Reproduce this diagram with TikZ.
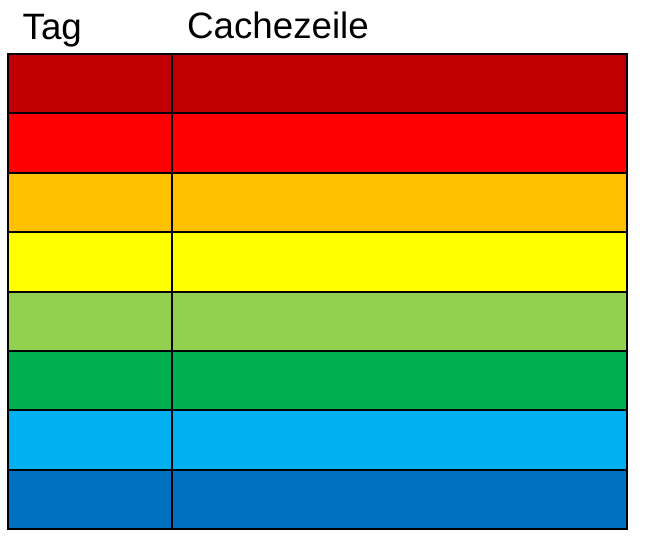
\documentclass[tikz,border=0pt]{standalone}
\usepackage{fontspec}
\setmainfont{Liberation Sans}
\definecolor{c1}{HTML}{C00000}
\definecolor{c2}{HTML}{FF0000}
\definecolor{c3}{HTML}{FFC000}
\definecolor{c4}{HTML}{FFFF00}
\definecolor{c5}{HTML}{92D050}
\definecolor{c6}{HTML}{00B050}
\definecolor{c7}{HTML}{00B0F0}
\definecolor{c8}{HTML}{0070C0}
\tikzset{
  cell/.style={draw=black, line width=2pt, inner sep=0pt, outer sep=0pt, minimum height=59.375pt},
  tagcell/.style={cell, minimum width=164pt},
  linecell/.style={cell, minimum width=455pt},
  head/.style={inner sep=0pt, anchor=base west, font=\fontsize{36.7}{40}\selectfont}
}
\begin{document}
\begin{tikzpicture}[x=1pt,y=-1pt]
\useasboundingbox (0,0) rectangle (651,538);
\node[head] (tag) at (22.5,39) {Tag};
\node[head] (cz) at (187,38.5) {Cachezeile};
\foreach \i in {1,...,8}{
  \pgfmathsetmacro{\yc}{54+(\i-0.5)*59.375}
  \node[tagcell, fill=c\i] (t\i) at (90,\yc) {};
  \node[linecell, fill=c\i] (l\i) at (399.5,\yc) {};
}
\end{tikzpicture}
\end{document}
